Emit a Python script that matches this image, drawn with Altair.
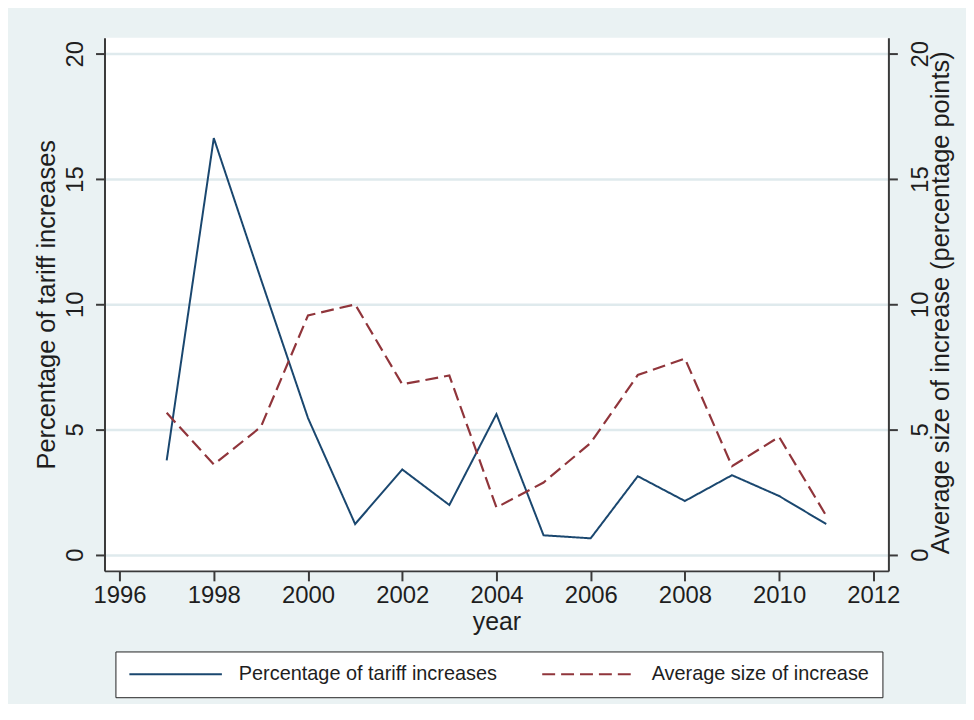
import altair as alt
import pandas as pd

# ---- data ----
years = [1997, 1998, 1999, 2000, 2001, 2002, 2003, 2004, 2005, 2006, 2007, 2008, 2009, 2010, 2011]
pct_tariff_increases = [3.76, 16.63, 11.0, 5.45, 1.22, 3.40, 1.98, 5.61, 0.77, 0.65, 3.13, 2.14, 3.17, 2.34, 1.22]
avg_size_increase = [5.66, 3.60, 5.10, 9.55, 9.99, 6.80, 7.15, 1.88, 2.88, 4.46, 7.17, 7.83, 3.53, 4.70, 1.55]
series_names = ["Percentage of tariff increases", "Average size of increase"]
x_tick_values = [1996, 1998, 2000, 2002, 2004, 2006, 2008, 2010, 2012]
y_tick_values = [0, 5, 10, 15, 20]
left_title = "Percentage of tariff increases"
right_title = "Average size of increase (percentage points)"
x_title = "year"

df = pd.DataFrame({
    "year": years + years,
    "value": pct_tariff_increases + avg_size_increase,
    "series": [series_names[0]] * len(years) + [series_names[1]] * len(years),
})

FONT = "Liberation Sans"
TXT = "#1e1e1e"
AXC = "#3a3a3a"
BG = "#eaf2f3"
GRID = "#dfeaed"

x_dom = [1995.68, 2012.32]
y_dom = [-0.65, 20.64]

color_scale = alt.Scale(domain=series_names, range=["#1a476f", "#90353b"])
dash_scale = alt.Scale(domain=series_names, range=[[1, 0], [13, 6]])

legend = alt.Legend(
    title=None, orient="none", legendX=11, legendY=617, direction="horizontal",
    fillColor="white", strokeColor="#222222", padding=13,
    labelFont=FONT, labelFontSize=20, labelColor=TXT, labelOffset=16, labelLimit=600,
    columnPadding=44, symbolType="stroke", symbolSize=8649, symbolStrokeWidth=2,
    clipHeight=20, symbolOffset=0,
)

base = alt.Chart(df).encode(
    x=alt.X(
        "year:Q",
        scale=alt.Scale(domain=x_dom, nice=False, zero=False),
        axis=alt.Axis(
            values=x_tick_values, format="d", title=x_title, grid=False,
            tickSize=10, labelPadding=3, labelFontSize=24, labelFlush=False,
            labelOverlap=False, titleFontSize=25, titleFontWeight="normal",
            titleX=394, titleY=59, titleAlign="center", titleBaseline="alphabetic",
        ),
    ),
    color=alt.Color("series:N", scale=color_scale, legend=legend),
    strokeDash=alt.StrokeDash("series:N", scale=dash_scale, legend=legend),
)

left = base.transform_filter(alt.datum.series == series_names[0]).mark_line(strokeWidth=2).encode(
    y=alt.Y(
        "value:Q",
        scale=alt.Scale(domain=y_dom, nice=False, zero=False),
        axis=alt.Axis(
            orient="left", values=y_tick_values, title=left_title, grid=True,
            gridColor=GRID, gridWidth=2.5, tickSize=9, labelPadding=13,
            labelAngle=-90, labelAlign="center", labelBaseline="alphabetic",
            labelFontSize=24, titleFontSize=25.5, titleFontWeight="normal",
            titleAngle=-90, titleX=-50.5, titleY=268, titleAlign="center",
            titleBaseline="alphabetic",
        ),
    )
)

right = base.transform_filter(alt.datum.series == series_names[1]).mark_line(strokeWidth=2.2).encode(
    y=alt.Y(
        "value:Q",
        scale=alt.Scale(domain=y_dom, nice=False, zero=False),
        axis=alt.Axis(
            orient="right", values=y_tick_values, title=right_title, grid=False,
            tickSize=9, labelPadding=11,
            labelAngle=-90, labelAlign="center", labelBaseline="top",
            labelFontSize=24, titleFontSize=25.5, titleFontWeight="normal",
            titleAngle=-90, titleX=60, titleY=266, titleAlign="center",
            titleBaseline="alphabetic",
        ),
    )
)

chart = (
    alt.layer(left, right)
    .resolve_scale(y="independent")
    .properties(
        width=788, height=536,
        autosize=alt.AutoSizeParams(type="none"),
        padding={"left": 97, "top": 28, "right": 78, "bottom": 132},
        background=BG,
    )
    .configure(font=FONT)
    .configure_view(fill="white", strokeWidth=0)
    .configure_axis(
        labelFont=FONT, titleFont=FONT, labelColor=TXT, titleColor=TXT,
        domainColor=AXC, domainWidth=2, tickColor=AXC, tickWidth=2,
    )
)

chart.save("out.html", embed_options={"renderer": "svg", "actions": False})
